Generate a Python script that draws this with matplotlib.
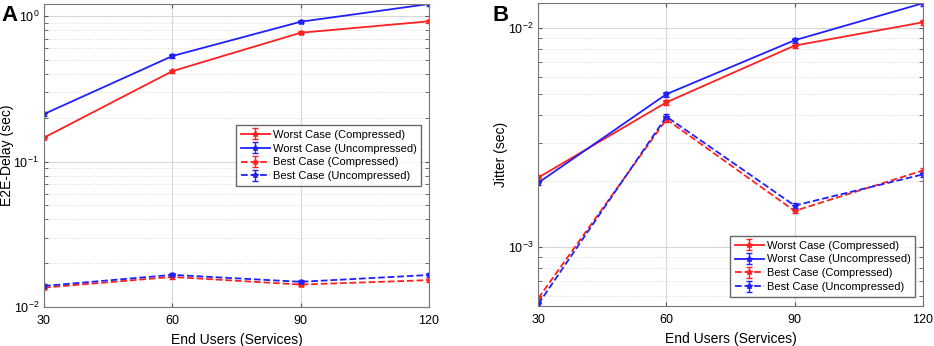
import matplotlib.pyplot as plt
from matplotlib.ticker import LogLocator, NullFormatter

users = [30, 60, 90, 120]

# panel A: E2E delay (sec)
delay_worst_comp = [0.146, 0.418, 0.768, 0.92]
delay_worst_uncomp = [0.212, 0.531, 0.914, 1.21]
delay_best_comp = [0.0136, 0.0161, 0.01426, 0.0153]
delay_best_uncomp = [0.01396, 0.01663, 0.0149, 0.0166]

# panel B: jitter (sec)
jit_worst_comp = [2.08e-3, 4.59e-3, 8.33e-3, 1.064e-2]
jit_worst_uncomp = [1.97e-3, 5.0e-3, 8.81e-3, 1.30e-2]
jit_best_comp = [5.85e-4, 3.84e-3, 1.465e-3, 2.24e-3]
jit_best_uncomp = [5.5e-4, 3.95e-3, 1.55e-3, 2.15e-3]

labels = ["Worst Case (Compressed)", "Worst Case (Uncompressed)",
          "Best Case (Compressed)", "Best Case (Uncompressed)"]
colors = ["#ff2020", "#2020ff", "#ff2020", "#2020ff"]
styles = ["-", "-", "--", "--"]

plt.rcParams["font.family"] = "Liberation Sans"
fig = plt.figure(figsize=(9.34, 3.46), dpi=100)


def draw(ax, series, ylim, ylabel, legend_bbox):
    for vals, lb, c, ls in zip(series, labels, colors, styles):
        err = [v * 0.025 for v in vals]
        ax.errorbar(users, vals, yerr=err, color=c, ls=ls, lw=1.3,
                    marker="*", ms=4, capsize=2, elinewidth=1, label=lb)
    ax.set_yscale("log")
    ax.set_xlim(30, 120)
    ax.set_ylim(*ylim)
    ax.set_xticks(users)
    ax.yaxis.set_minor_locator(LogLocator(base=10, subs=range(2, 10)))
    ax.yaxis.set_minor_formatter(NullFormatter())
    ax.grid(True, which="major", color="#d8d8d8", lw=0.8)
    ax.grid(True, which="minor", color="#dddddd", lw=0.7, ls=":")
    ax.tick_params(direction="in", which="both", labelsize=9, length=3,
                   top=True, right=True, color="#555555")
    ax.tick_params(axis="x", pad=6)
    for s in ax.spines.values():
        s.set_color("#777777")
    ax.set_xlabel("End Users (Services)", fontsize=10, labelpad=4)
    ax.set_ylabel(ylabel, fontsize=10)
    ax.yaxis.set_label_coords(-0.078, 0.5)
    leg = ax.legend(loc="lower left", bbox_to_anchor=legend_bbox, fontsize=8,
                    frameon=True, fancybox=False, edgecolor="#444444",
                    handlelength=2.6, borderpad=0.4, labelspacing=0.35,
                    handletextpad=0.3, borderaxespad=0)
    leg.get_frame().set_linewidth(1.0)


axA = fig.add_axes([0.0471, 0.1127, 0.4122, 0.8757])
draw(axA, [delay_worst_comp, delay_worst_uncomp, delay_best_comp, delay_best_uncomp],
     (0.01, 1.21), "E2E-Delay (sec)", (0.50, 0.40))

axB = fig.add_axes([0.5763, 0.1165, 0.4116, 0.874])
draw(axB, [jit_worst_comp, jit_worst_uncomp, jit_best_comp, jit_best_uncomp],
     (5.41e-4, 1.30e-2), "Jitter (sec)", (0.50, 0.03))

fig.text(0.002, 0.985, "A", fontsize=16, fontweight="bold", va="top")
fig.text(0.527, 0.985, "B", fontsize=16, fontweight="bold", va="top")

fig.savefig("out.png", dpi=100)
